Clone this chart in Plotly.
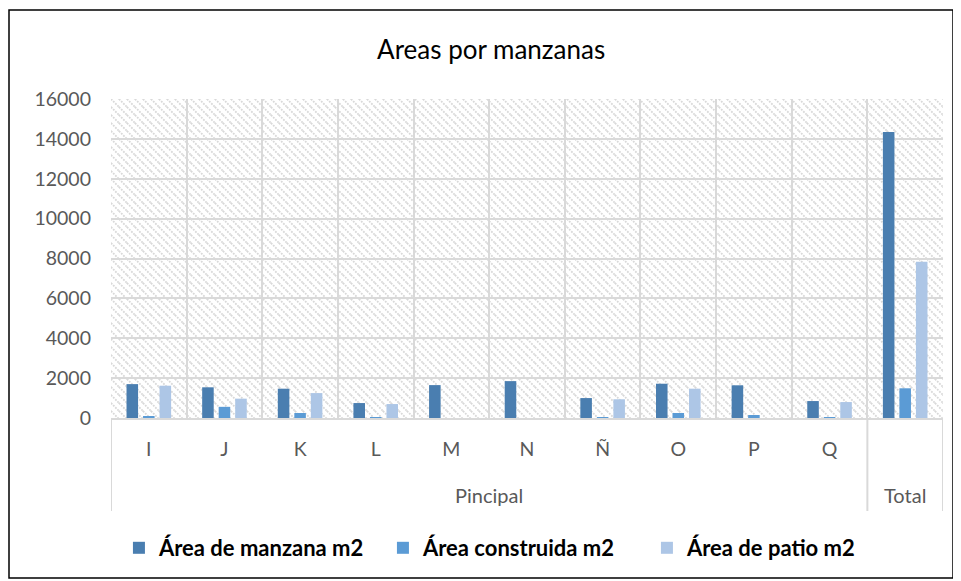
import base64
import plotly.graph_objects as go

blocks = ["I", "J", "K", "L", "M", "N", "Ñ", "O", "P", "Q"]
group_main = "Pincipal"
group_total = "Total"
area_manzana = [1700, 1540, 1470, 750, 1650, 1850, 1000, 1720, 1640, 850, 14350]
area_construida = [60, 560, 250, 40, 0, 0, 30, 250, 150, 30, 1490]
area_patio = [1620, 970, 1250, 700, 0, 0, 940, 1470, 0, 800, 7840]
series_names = ["Área de manzana m2", "Área construida m2", "Área de patio m2"]
colors = ["#4a7eb0", "#5b9bd5", "#adc6e6"]

categories = blocks + [group_total]
tick_text = blocks + [""]

W, H = 953, 573          # page adds an 8px body margin
L, R, T, B = 103, 18, 91, 163
pw, ph = W - L - R, H - T - B

svg = (
    f"<svg xmlns='http://www.w3.org/2000/svg' width='{pw}' height='{ph}'>"
    "<defs><pattern id='p' width='8' height='8' patternUnits='userSpaceOnUse'>"
    "<path d='M0,0 L8,8 M-1,7 L1,9 M7,-1 L9,1' stroke='#d9d9d9' stroke-width='1.8' "
    "stroke-dasharray='1.8,1.2'/></pattern></defs>"
    "<rect width='100%' height='100%' fill='white'/>"
    "<rect width='100%' height='100%' fill='url(#p)'/></svg>"
)
src = "data:image/svg+xml;base64," + base64.b64encode(svg.encode()).decode()

fig = go.Figure()
for name, vals, c in zip(series_names, [area_manzana, area_construida, area_patio], colors):
    fig.add_trace(go.Bar(x=categories, y=vals, name=name, marker_color=c,
                         marker_line_width=0))

def py(page_y):
    return (418 - page_y) / ph

n = len(categories)
dividers = []
for xb in [-0.5, len(blocks) - 0.5, n - 0.5]:
    dividers.append(dict(type="line", xref="x", yref="paper", x0=xb, x1=xb,
                         y0=0, y1=py(511), line=dict(color="#d9d9d9", width=2)))

fig.update_layout(
    width=W, height=H,
    margin=dict(l=L, r=R, t=T, b=B),
    paper_bgcolor="white",
    plot_bgcolor="rgba(0,0,0,0)",
    barmode="group",
    bargap=0.345,
    bargroupgap=0.3,
    showlegend=True,
    font=dict(family="Lato, sans-serif", color="#595959", size=19.5),
    title=dict(text="Areas por manzanas", x=0.507, xanchor="center",
               y=1 - 42 / H, yanchor="middle",
               font=dict(family="Lato, sans-serif", size=26, color="#000000")),
    legend=dict(orientation="h", x=0.4855, xanchor="center", y=py(548), yanchor="middle",
                font=dict(family="Lato, sans-serif", size=22, color="#000000", weight="bold"),
                bgcolor="rgba(0,0,0,0)",
                itemwidth=30, traceorder="normal", entrywidth=219, entrywidthmode="pixels"),
    images=[dict(source=src, xref="paper", yref="paper", x=0, y=1, sizex=1, sizey=1,
                 xanchor="left", yanchor="top", sizing="stretch", layer="below")],
    shapes=dividers + [dict(type="rect", xref="paper", yref="paper",
                            x0=(9 - 111) / pw, x1=(953 - 111) / pw,
                            y0=py(578), y1=py(10),
                            line=dict(color="black", width=1.5),
                            fillcolor="rgba(0,0,0,0)", layer="below")],
    annotations=[
        dict(text=group_main, xref="x", yref="paper", x=(len(blocks) - 1) / 2, y=py(495),
             showarrow=False, xanchor="center", yanchor="middle",
             font=dict(family="Lato, sans-serif", size=20, color="#595959")),
        dict(text=group_total, xref="x", yref="paper", x=n - 1, y=py(495),
             showarrow=False, xanchor="center", yanchor="middle",
             font=dict(family="Lato, sans-serif", size=20, color="#595959")),
    ],
)
fig.update_yaxes(range=[0, 16000], dtick=2000, showgrid=True, gridcolor="#d9d9d9", gridwidth=2,
                 zeroline=False, showline=False, ticks="", tickformat="d", ticklabelstandoff=19)
fig.update_xaxes(type="category", categoryorder="array", categoryarray=categories,
                 tickmode="array", tickvals=categories, ticktext=tick_text,
                 showgrid=True, gridcolor="#d9d9d9", gridwidth=2,
                 tickson="boundaries", showline=True, linecolor="#d9d9d9", linewidth=2,
                 ticks="", ticklabelstandoff=13, range=[-0.5, n - 0.5])

fig.write_html("out.html")
